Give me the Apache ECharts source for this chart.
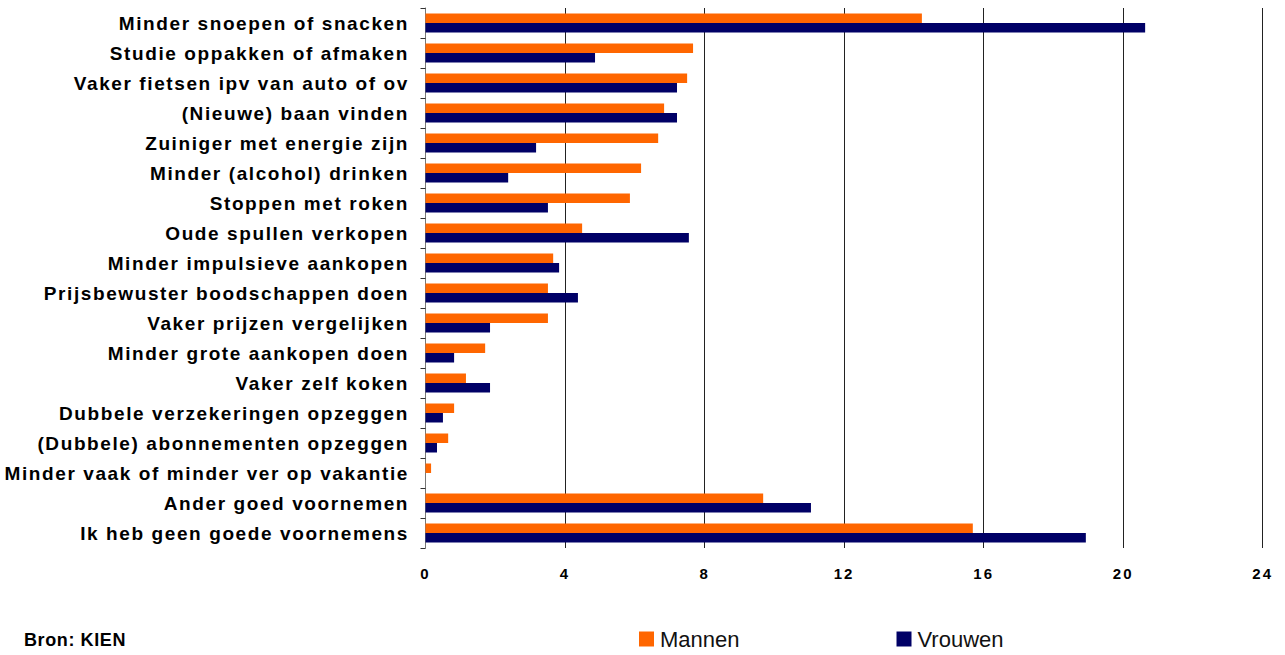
<!DOCTYPE html>
<html>
<head>
<meta charset="utf-8">
<script src="https://cdn.jsdelivr.net/npm/echarts@6/dist/echarts.min.js"></script>
<style>
  html, body { margin: 0; padding: 0; background: #ffffff; }
  #chart { width: 1285px; height: 655px; }
</style>
</head>
<body>
<div id="chart"></div>
<script>
  // categorieën (van boven naar beneden)
  const categories = [
    'Minder snoepen of snacken',
    'Studie oppakken of afmaken',
    'Vaker fietsen ipv van auto of ov',
    '(Nieuwe) baan vinden',
    'Zuiniger met energie zijn',
    'Minder (alcohol) drinken',
    'Stoppen met roken',
    'Oude spullen verkopen',
    'Minder impulsieve aankopen',
    'Prijsbewuster boodschappen doen',
    'Vaker prijzen vergelijken',
    'Minder grote aankopen doen',
    'Vaker zelf koken',
    'Dubbele verzekeringen opzeggen',
    '(Dubbele) abonnementen opzeggen',
    'Minder vaak of minder ver op vakantie',
    'Ander goed voornemen',
    'Ik heb geen goede voornemens'
  ]

  const mannen = [14.23, 7.67, 7.5, 6.84, 6.67, 6.18, 5.86, 4.49, 3.66, 3.51, 3.51, 1.71, 1.16, 0.82, 0.65, 0.16, 9.68, 15.69]
  const vrouwen = [20.63, 4.86, 7.21, 7.21, 3.17, 2.37, 3.51, 7.55, 3.83, 4.37, 1.85, 0.82, 1.85, 0.5, 0.33, 0, 11.05, 18.93]

  const xTicks = { min: 0, max: 24, interval: 4 }

  const FONT = '"Liberation Sans", Arial, sans-serif'

  // svg renderer, zodat letter-spacing via de DOM kan (zoals in het origineel)
  const chart = echarts.init(document.getElementById('chart'), null, { renderer: 'svg' })

  chart.setOption({
    animation: false,
    grid: {
      left: 425.5,
      right: 22.3,
      top: 8,
      height: 540,
      containLabel: false
    },
    legend: {
      data: ['Mannen', 'Vrouwen'],
      left: 634,
      top: 623,
      itemWidth: 15,
      itemHeight: 15,
      itemGap: 157,
      icon: 'rect',
      textStyle: {
        fontFamily: FONT,
        fontSize: 22,
        color: '#111',
        padding: [0, 0, 0, 1]
      }
    },
    graphic: [
      {
        type: 'text',
        left: 24,
        top: 631,
        style: {
          text: 'Bron: KIEN',
          font: 'bold 18px "Liberation Sans", Arial, sans-serif',
          fill: '#000'
        }
      }
    ],
    xAxis: {
      type: 'value',
      min: xTicks.min,
      max: xTicks.max,
      interval: xTicks.interval,
      axisLine: { show: false },
      axisTick: { show: false },
      splitLine: { show: true, lineStyle: { color: '#222', width: 1 } },
      axisLabel: {
        margin: 18,
        color: '#000',
        fontFamily: FONT,
        fontWeight: 'bold',
        fontSize: 15
      }
    },
    yAxis: {
      type: 'category',
      data: categories,
      inverse: true,
      axisLine: { show: true, lineStyle: { color: '#777', width: 1 } },
      axisTick: { show: true, length: 5, lineStyle: { color: '#333' } },
      axisLabel: {
        margin: 16.5,
        color: '#000',
        fontFamily: FONT,
        fontWeight: 'bold',
        fontSize: 19
      }
    },
    series: [
      {
        name: 'Mannen',
        type: 'bar',
        data: mannen,
        barWidth: 9.5,
        barGap: '0%',
        itemStyle: { color: '#FF6600' }
      },
      {
        name: 'Vrouwen',
        type: 'bar',
        data: vrouwen,
        barWidth: 9.5,
        barGap: '0%',
        itemStyle: { color: '#000066' }
      }
    ]
  })

  // letterafstand per lettergrootte
  function applySpacing() {
    document.querySelectorAll('#chart text').forEach((el) => {
      const size = parseFloat(getComputedStyle(el).fontSize)
      let ls = 0
      if (size === 19) ls = 1.6
      else if (size === 15) ls = 2
      else if (size === 18) ls = 0.6
      el.style.fontFamily = FONT
      el.style.letterSpacing = ls + 'px'
    })
  }
  applySpacing()
  chart.on('finished', applySpacing)
</script>
</body>
</html>
